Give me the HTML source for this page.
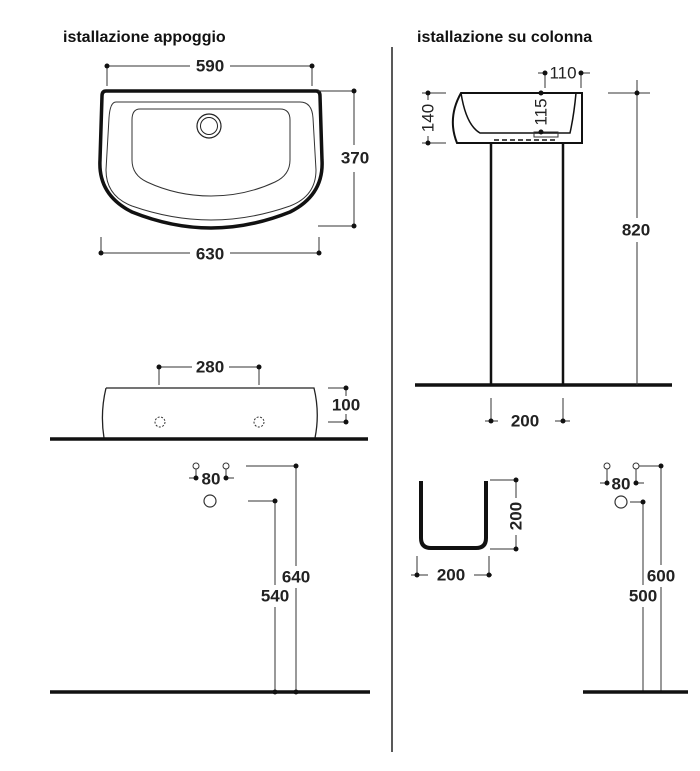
<!DOCTYPE html>
<html><head><style>html,body{margin:0;padding:0;background:#fff}svg{display:block}</style></head><body>
<svg width="700" height="771" viewBox="0 0 700 771" xmlns="http://www.w3.org/2000/svg" font-family="Liberation Sans, sans-serif" font-weight="bold">
<defs><style>.d{stroke:#333;stroke-width:1;fill:none}.t{font-size:17px;fill:#222;text-anchor:middle;dominant-baseline:central}</style></defs>
<text x="63" y="42" font-size="16" fill="#111">istallazione appoggio</text>
<text x="417" y="42" font-size="16" fill="#111">istallazione su colonna</text>
<line x1="392" y1="47" x2="392" y2="752" stroke="#222" stroke-width="1.5"/>

<!-- top basin -->
<path d="M106 91 L316 91 Q320 91 320 96 L322 160 Q324 195 290 212 Q250 228 211 228 Q172 228 132 212 Q98 195 100 160 L102 96 Q102 91 106 91 Z" fill="none" stroke="#111" stroke-width="3.5"/>
<path d="M116 102 L300 102 Q312 102 313 118 L316 170 Q316 196 290 206 Q250 220 211 220 Q172 220 132 206 Q106 196 106 170 L109 118 Q110 102 116 102 Z" fill="none" stroke="#333" stroke-width="1"/>
<path d="M140 109 L280 109 Q290 109 290 120 L290 160 Q290 175 275 182 Q245 196 211 196 Q177 196 147 182 Q132 175 132 160 L132 120 Q132 109 140 109 Z" fill="none" stroke="#333" stroke-width="1"/>
<circle cx="209" cy="126" r="12" fill="none" stroke="#222" stroke-width="1.2"/><circle cx="209" cy="126" r="8.5" fill="none" stroke="#222" stroke-width="1"/>
<g class="d"><line x1="107" y1="66" x2="190" y2="66"/><line x1="230" y1="66" x2="312" y2="66"/><line x1="107" y1="66" x2="107" y2="86"/><line x1="312" y1="66" x2="312" y2="86"/>
<line x1="318" y1="91" x2="354" y2="91"/><line x1="318" y1="226" x2="354" y2="226"/><line x1="354" y1="91" x2="354" y2="145"/><line x1="354" y1="172" x2="354" y2="226"/>
<line x1="101" y1="253" x2="190" y2="253"/><line x1="230" y1="253" x2="319" y2="253"/><line x1="101" y1="237" x2="101" y2="253"/><line x1="319" y1="237" x2="319" y2="253"/></g>
<g fill="#111"><circle cx="107" cy="66" r="2.5"/><circle cx="312" cy="66" r="2.5"/><circle cx="354" cy="91" r="2.5"/><circle cx="354" cy="226" r="2.5"/><circle cx="101" cy="253" r="2.5"/><circle cx="319" cy="253" r="2.5"/></g>
<text class="t" x="210" y="66">590</text><text class="t" x="355" y="158">370</text><text class="t" x="210" y="254">630</text>

<!-- side view left -->
<path d="M106 388 L314 388 Q320 413 315 438 M106 388 Q100 413 104 438" fill="none" stroke="#222" stroke-width="1.3"/>
<line x1="50" y1="439" x2="368" y2="439" stroke="#111" stroke-width="3.5"/>
<circle cx="160" cy="422" r="5" fill="none" stroke="#333" stroke-dasharray="2,1.5"/><circle cx="259" cy="422" r="5" fill="none" stroke="#333" stroke-dasharray="2,1.5"/>
<g class="d"><line x1="159" y1="367" x2="192" y2="367"/><line x1="229" y1="367" x2="259" y2="367"/><line x1="159" y1="367" x2="159" y2="385"/><line x1="259" y1="367" x2="259" y2="385"/>
<line x1="328" y1="388" x2="346" y2="388"/><line x1="328" y1="422" x2="346" y2="422"/><line x1="346" y1="388" x2="346" y2="396"/><line x1="346" y1="414" x2="346" y2="422"/></g>
<g fill="#111"><circle cx="159" cy="367" r="2.5"/><circle cx="259" cy="367" r="2.5"/><circle cx="346" cy="388" r="2.5"/><circle cx="346" cy="422" r="2.5"/></g>
<text class="t" x="210" y="367">280</text><text class="t" x="346" y="405">100</text>

<!-- bottom left -->
<g class="d"><circle cx="196" cy="466" r="3"/><circle cx="226" cy="466" r="3"/><line x1="196" y1="469" x2="196" y2="478"/><line x1="226" y1="469" x2="226" y2="478"/><line x1="189" y1="478" x2="196" y2="478"/><line x1="226" y1="478" x2="234" y2="478"/>
<circle cx="210" cy="501" r="6" stroke-width="1.2"/>
<line x1="246" y1="466" x2="296" y2="466"/><line x1="296" y1="466" x2="296" y2="566"/><line x1="296" y1="588" x2="296" y2="692"/>
<line x1="248" y1="501" x2="275" y2="501"/><line x1="275" y1="501" x2="275" y2="585"/><line x1="275" y1="607" x2="275" y2="692"/></g>
<g fill="#111"><circle cx="196" cy="478" r="2.5"/><circle cx="226" cy="478" r="2.5"/><circle cx="296" cy="466" r="2.5"/><circle cx="275" cy="501" r="2.5"/><circle cx="296" cy="692" r="2.5"/><circle cx="275" cy="692" r="2.5"/></g>
<text class="t" x="211" y="479">80</text><text class="t" x="296" y="577">640</text><text class="t" x="275" y="596">540</text>
<line x1="50" y1="692" x2="370" y2="692" stroke="#111" stroke-width="3.5"/>

<!-- right top -->
<path d="M461 93 L582 93 L582 143 L457 143 Q447 118 461 93 Z" fill="none" stroke="#111" stroke-width="2"/>
<path d="M461 93 Q466 125 480 133 L570 133 Q574 115 576 93" fill="none" stroke="#111" stroke-width="1.5"/>
<rect x="534" y="132" width="24" height="5" fill="none" stroke="#333"/>
<line x1="494" y1="140" x2="556" y2="140" stroke="#111" stroke-width="1.5" stroke-dasharray="5,3"/>
<line x1="491" y1="143" x2="491" y2="385" stroke="#111" stroke-width="2.5"/><line x1="563" y1="143" x2="563" y2="385" stroke="#111" stroke-width="2.5"/>
<line x1="415" y1="385" x2="672" y2="385" stroke="#111" stroke-width="3.5"/>
<g class="d"><line x1="422" y1="93" x2="446" y2="93"/><line x1="422" y1="143" x2="446" y2="143"/><line x1="428" y1="93" x2="428" y2="100"/><line x1="428" y1="136" x2="428" y2="143"/>
<line x1="538" y1="73" x2="545" y2="73"/><line x1="581" y1="73" x2="590" y2="73"/><line x1="545" y1="73" x2="545" y2="88"/><line x1="581" y1="73" x2="581" y2="88"/>
<line x1="608" y1="93" x2="650" y2="93"/><line x1="637" y1="80" x2="637" y2="218"/><line x1="637" y1="242" x2="637" y2="385"/>
<line x1="491" y1="398" x2="491" y2="421"/><line x1="563" y1="398" x2="563" y2="421"/><line x1="485" y1="421" x2="498" y2="421"/><line x1="555" y1="421" x2="570" y2="421"/></g>
<g fill="#111"><circle cx="428" cy="93" r="2.5"/><circle cx="428" cy="143" r="2.5"/><circle cx="545" cy="73" r="2.5"/><circle cx="581" cy="73" r="2.5"/><circle cx="541" cy="93" r="2.5"/><circle cx="541" cy="132" r="2.5"/><circle cx="637" cy="93" r="2.5"/><circle cx="491" cy="421" r="2.5"/><circle cx="563" cy="421" r="2.5"/></g>
<text class="t" x="563" y="73" font-weight="normal">110</text>
<text class="t" x="428" y="118" transform="rotate(-90 428 118)" font-weight="normal">140</text>
<text class="t" x="541" y="112" transform="rotate(-90 541 112)" font-weight="normal">115</text>
<text class="t" x="636" y="230">820</text><text class="t" x="525" y="421">200</text>

<!-- U -->
<path d="M421 481 L421 538 Q421 548 431 548 L476 548 Q486 548 486 538 L486 481" fill="none" stroke="#111" stroke-width="4"/>
<g class="d"><line x1="490" y1="480" x2="516" y2="480"/><line x1="490" y1="549" x2="516" y2="549"/><line x1="516" y1="480" x2="516" y2="498"/><line x1="516" y1="535" x2="516" y2="549"/>
<line x1="417" y1="556" x2="417" y2="575"/><line x1="489" y1="556" x2="489" y2="575"/><line x1="411" y1="575" x2="428" y2="575"/><line x1="474" y1="575" x2="492" y2="575"/></g>
<g fill="#111"><circle cx="516" cy="480" r="2.5"/><circle cx="516" cy="549" r="2.5"/><circle cx="417" cy="575" r="2.5"/><circle cx="489" cy="575" r="2.5"/></g>
<text class="t" x="516" y="516" transform="rotate(-90 516 516)">200</text><text class="t" x="451" y="575">200</text>

<!-- bottom right -->
<g class="d"><circle cx="607" cy="466" r="3"/><circle cx="636" cy="466" r="3"/><line x1="607" y1="469" x2="607" y2="483"/><line x1="636" y1="469" x2="636" y2="483"/><line x1="600" y1="483" x2="607" y2="483"/><line x1="636" y1="483" x2="644" y2="483"/>
<circle cx="621" cy="502" r="6" stroke-width="1.2"/>
<line x1="639" y1="466" x2="661" y2="466"/><line x1="661" y1="466" x2="661" y2="565"/><line x1="661" y1="587" x2="661" y2="692"/>
<line x1="630" y1="502" x2="643" y2="502"/><line x1="643" y1="502" x2="643" y2="585"/><line x1="643" y1="607" x2="643" y2="692"/></g>
<g fill="#111"><circle cx="607" cy="483" r="2.5"/><circle cx="636" cy="483" r="2.5"/><circle cx="661" cy="466" r="2.5"/><circle cx="643" cy="502" r="2.5"/></g>
<text class="t" x="621" y="484">80</text><text class="t" x="661" y="576">600</text><text class="t" x="643" y="596">500</text>
<line x1="583" y1="692" x2="688" y2="692" stroke="#111" stroke-width="3.5"/>
</svg>
</body></html>
